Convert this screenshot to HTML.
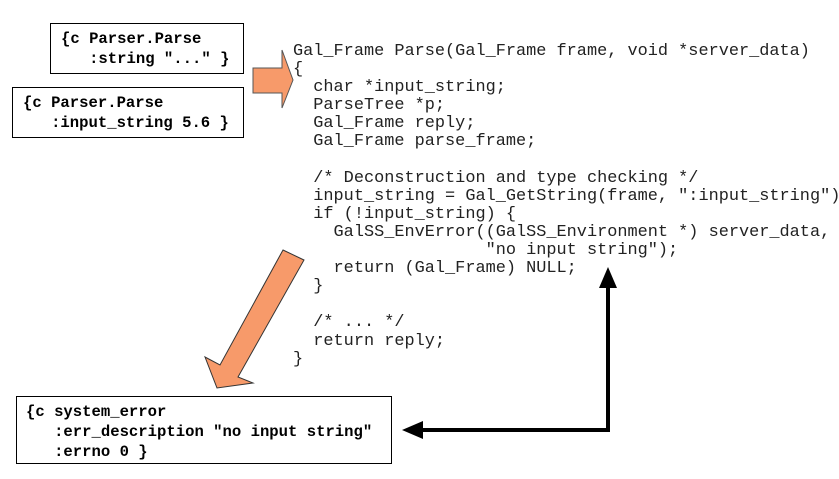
<!DOCTYPE html>
<html><head><style>
body{margin:0;width:839px;height:479px;background:#fff;position:relative;overflow:hidden}
.box{position:absolute;border:1px solid #000;background:#fff;font-family:"Liberation Mono",monospace;font-weight:bold;font-size:15.6px;line-height:20px;white-space:pre;color:#000}
pre{position:absolute;left:293px;top:43px;margin:0;font-family:"Liberation Mono",monospace;font-size:16.9px;line-height:18.1px;color:#222}
svg{position:absolute;left:0;top:0}
</style></head><body>
<div class="box" style="left:50px;top:23px;width:192px;height:49px;"><div style="position:absolute;left:10px;top:5px">{c Parser.Parse
   :string "..." }</div></div>
<div class="box" style="left:12px;top:87px;width:230px;height:49px;"><div style="position:absolute;left:10px;top:5px">{c Parser.Parse
   :input_string 5.6 }</div></div>
<div class="box" style="left:16px;top:396px;width:374px;height:66px;"><div style="position:absolute;left:9px;top:5px">{c system_error
   :err_description "no input string"
   :errno 0 }</div></div>
<pre>Gal_Frame Parse(Gal_Frame frame, void *server_data)
{
  char *input_string;
  ParseTree *p;
  Gal_Frame reply;
  Gal_Frame parse_frame;

  /* Deconstruction and type checking */
  input_string = Gal_GetString(frame, ":input_string");
  if (!input_string) {
    GalSS_EnvError((GalSS_Environment *) server_data,
                   "no input string");
    return (Gal_Frame) NULL;
  }

  /* ... */
  return reply;
}</pre>
<svg width="839" height="479">
<polygon points="253,68 282,68 282,50 293,80 282,108 282,93 253,93" fill="#f79a6a" stroke="#555" stroke-width="1"/>
<polygon points="283,250 304,260 238,377 253,383 217,388 205,357 220,365" fill="#f79a6a" stroke="#333" stroke-width="1"/>
<polyline points="608,284 608,430 420,430" fill="none" stroke="#000" stroke-width="4"/>
<polygon points="608,267 599,288 617,288" fill="#000"/>
<polygon points="402,430 423,421 423,439" fill="#000"/>
</svg>
</body></html>
